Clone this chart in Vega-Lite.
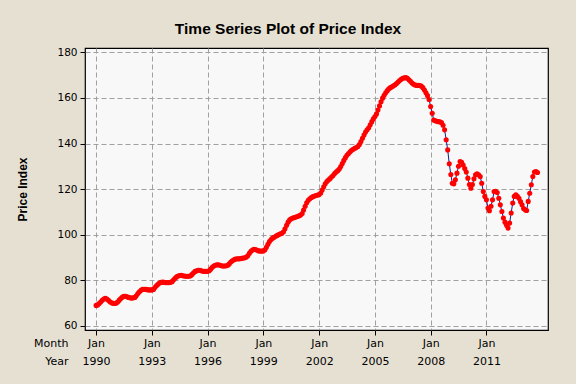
{
"$schema": "https://vega.github.io/schema/vega-lite/v6.json",
"width": 463, "height": 282,
"autosize": {"type": "none"},
"padding": {"left": 85, "top": 48, "right": 28, "bottom": 54},
"background": "#E6E0D3",
"title": {"text": "Time Series Plot of Price Index", "font": "Liberation Sans", "fontSize": 15.5, "fontWeight": "bold", "color": "#000000", "frame": "group", "anchor": "middle", "offset": 10, "dx": -28.5},
"config": {"view": {"fill": "#F8F8F8", "stroke": "#000000", "strokeWidth": 1.2}},
"data": {"values": [
{"month":"1990-01","price":69.0},{"month":"1990-02","price":69.2},{"month":"1990-03","price":69.8},{"month":"1990-04","price":70.5},{"month":"1990-05","price":71.2},{"month":"1990-06","price":71.8},{"month":"1990-07","price":72.1},{"month":"1990-08","price":71.8},{"month":"1990-09","price":71.2},{"month":"1990-10","price":70.6},{"month":"1990-11","price":70.1},{"month":"1990-12","price":69.9},
{"month":"1991-01","price":69.8},{"month":"1991-02","price":70.0},{"month":"1991-03","price":70.5},{"month":"1991-04","price":71.3},{"month":"1991-05","price":72.0},{"month":"1991-06","price":72.6},{"month":"1991-07","price":73.0},{"month":"1991-08","price":73.0},{"month":"1991-09","price":72.8},{"month":"1991-10","price":72.5},{"month":"1991-11","price":72.3},{"month":"1991-12","price":72.2},
{"month":"1992-01","price":72.3},{"month":"1992-02","price":72.5},{"month":"1992-03","price":73.2},{"month":"1992-04","price":74.2},{"month":"1992-05","price":75.0},{"month":"1992-06","price":75.6},{"month":"1992-07","price":76.0},{"month":"1992-08","price":76.1},{"month":"1992-09","price":76.0},{"month":"1992-10","price":75.9},{"month":"1992-11","price":75.8},{"month":"1992-12","price":75.8},
{"month":"1993-01","price":75.8},{"month":"1993-02","price":76.0},{"month":"1993-03","price":76.8},{"month":"1993-04","price":77.6},{"month":"1993-05","price":78.3},{"month":"1993-06","price":78.8},{"month":"1993-07","price":79.1},{"month":"1993-08","price":79.2},{"month":"1993-09","price":79.1},{"month":"1993-10","price":79.0},{"month":"1993-11","price":79.0},{"month":"1993-12","price":79.0},
{"month":"1994-01","price":79.1},{"month":"1994-02","price":79.4},{"month":"1994-03","price":80.1},{"month":"1994-04","price":80.9},{"month":"1994-05","price":81.5},{"month":"1994-06","price":81.9},{"month":"1994-07","price":82.1},{"month":"1994-08","price":82.2},{"month":"1994-09","price":82.0},{"month":"1994-10","price":81.9},{"month":"1994-11","price":81.8},{"month":"1994-12","price":81.8},
{"month":"1995-01","price":81.8},{"month":"1995-02","price":82.0},{"month":"1995-03","price":82.6},{"month":"1995-04","price":83.3},{"month":"1995-05","price":83.9},{"month":"1995-06","price":84.2},{"month":"1995-07","price":84.4},{"month":"1995-08","price":84.4},{"month":"1995-09","price":84.2},{"month":"1995-10","price":84.0},{"month":"1995-11","price":83.9},{"month":"1995-12","price":83.9},
{"month":"1996-01","price":84.0},{"month":"1996-02","price":84.2},{"month":"1996-03","price":84.9},{"month":"1996-04","price":85.7},{"month":"1996-05","price":86.3},{"month":"1996-06","price":86.6},{"month":"1996-07","price":86.8},{"month":"1996-08","price":86.8},{"month":"1996-09","price":86.6},{"month":"1996-10","price":86.4},{"month":"1996-11","price":86.3},{"month":"1996-12","price":86.3},
{"month":"1997-01","price":86.4},{"month":"1997-02","price":86.6},{"month":"1997-03","price":87.2},{"month":"1997-04","price":88.0},{"month":"1997-05","price":88.6},{"month":"1997-06","price":89.0},{"month":"1997-07","price":89.3},{"month":"1997-08","price":89.4},{"month":"1997-09","price":89.4},{"month":"1997-10","price":89.5},{"month":"1997-11","price":89.6},{"month":"1997-12","price":89.8},
{"month":"1998-01","price":89.9},{"month":"1998-02","price":90.2},{"month":"1998-03","price":90.8},{"month":"1998-04","price":91.8},{"month":"1998-05","price":92.7},{"month":"1998-06","price":93.3},{"month":"1998-07","price":93.6},{"month":"1998-08","price":93.5},{"month":"1998-09","price":93.2},{"month":"1998-10","price":92.9},{"month":"1998-11","price":92.8},{"month":"1998-12","price":92.8},
{"month":"1999-01","price":92.9},{"month":"1999-02","price":93.4},{"month":"1999-03","price":94.5},{"month":"1999-04","price":95.8},{"month":"1999-05","price":97.0},{"month":"1999-06","price":97.9},{"month":"1999-07","price":98.5},{"month":"1999-08","price":98.9},{"month":"1999-09","price":99.3},{"month":"1999-10","price":99.7},{"month":"1999-11","price":100.1},{"month":"1999-12","price":100.4},
{"month":"2000-01","price":100.6},{"month":"2000-02","price":101.3},{"month":"2000-03","price":102.6},{"month":"2000-04","price":104.1},{"month":"2000-05","price":105.5},{"month":"2000-06","price":106.5},{"month":"2000-07","price":107.0},{"month":"2000-08","price":107.3},{"month":"2000-09","price":107.5},{"month":"2000-10","price":107.8},{"month":"2000-11","price":108.0},{"month":"2000-12","price":108.3},
{"month":"2001-01","price":108.6},{"month":"2001-02","price":109.3},{"month":"2001-03","price":110.8},{"month":"2001-04","price":112.5},{"month":"2001-05","price":114.0},{"month":"2001-06","price":115.1},{"month":"2001-07","price":115.8},{"month":"2001-08","price":116.3},{"month":"2001-09","price":116.7},{"month":"2001-10","price":117.0},{"month":"2001-11","price":117.2},{"month":"2001-12","price":117.4},
{"month":"2002-01","price":117.6},{"month":"2002-02","price":118.3},{"month":"2002-03","price":119.6},{"month":"2002-04","price":121.0},{"month":"2002-05","price":122.3},{"month":"2002-06","price":123.3},{"month":"2002-07","price":124.0},{"month":"2002-08","price":124.6},{"month":"2002-09","price":125.3},{"month":"2002-10","price":126.0},{"month":"2002-11","price":126.8},{"month":"2002-12","price":127.5},
{"month":"2003-01","price":128.1},{"month":"2003-02","price":128.8},{"month":"2003-03","price":129.9},{"month":"2003-04","price":131.2},{"month":"2003-05","price":132.6},{"month":"2003-06","price":133.8},{"month":"2003-07","price":134.8},{"month":"2003-08","price":135.6},{"month":"2003-09","price":136.4},{"month":"2003-10","price":137.0},{"month":"2003-11","price":137.5},{"month":"2003-12","price":137.9},
{"month":"2004-01","price":138.2},{"month":"2004-02","price":138.7},{"month":"2004-03","price":139.6},{"month":"2004-04","price":140.9},{"month":"2004-05","price":142.3},{"month":"2004-06","price":143.7},{"month":"2004-07","price":145.0},{"month":"2004-08","price":146.0},{"month":"2004-09","price":146.9},{"month":"2004-10","price":148.2},{"month":"2004-11","price":149.6},{"month":"2004-12","price":150.8},
{"month":"2005-01","price":151.8},{"month":"2005-02","price":153.0},{"month":"2005-03","price":154.7},{"month":"2005-04","price":156.5},{"month":"2005-05","price":158.3},{"month":"2005-06","price":159.9},{"month":"2005-07","price":161.2},{"month":"2005-08","price":162.3},{"month":"2005-09","price":163.2},{"month":"2005-10","price":164.0},{"month":"2005-11","price":164.5},{"month":"2005-12","price":164.9},
{"month":"2006-01","price":165.3},{"month":"2006-02","price":165.8},{"month":"2006-03","price":166.3},{"month":"2006-04","price":167.0},{"month":"2006-05","price":167.6},{"month":"2006-06","price":168.2},{"month":"2006-07","price":168.6},{"month":"2006-08","price":168.8},{"month":"2006-09","price":168.9},{"month":"2006-10","price":168.6},{"month":"2006-11","price":168.0},{"month":"2006-12","price":167.3},
{"month":"2007-01","price":166.5},{"month":"2007-02","price":166.0},{"month":"2007-03","price":165.7},{"month":"2007-04","price":165.5},{"month":"2007-05","price":165.5},{"month":"2007-06","price":165.4},{"month":"2007-07","price":165.2},{"month":"2007-08","price":164.5},{"month":"2007-09","price":163.5},{"month":"2007-10","price":162.3},{"month":"2007-11","price":161.0},{"month":"2007-12","price":159.3},
{"month":"2008-01","price":156.2},{"month":"2008-02","price":153.3},{"month":"2008-03","price":150.3},{"month":"2008-04","price":150.0},{"month":"2008-05","price":149.8},{"month":"2008-06","price":149.6},{"month":"2008-07","price":149.5},{"month":"2008-08","price":149.2},{"month":"2008-09","price":148.0},{"month":"2008-10","price":146.0},{"month":"2008-11","price":141.6},{"month":"2008-12","price":137.2},
{"month":"2009-01","price":131.1},{"month":"2009-02","price":126.4},{"month":"2009-03","price":122.6},{"month":"2009-04","price":122.3},{"month":"2009-05","price":124.1},{"month":"2009-06","price":127.0},{"month":"2009-07","price":130.0},{"month":"2009-08","price":132.1},{"month":"2009-09","price":131.8},{"month":"2009-10","price":130.6},{"month":"2009-11","price":129.0},{"month":"2009-12","price":127.5},
{"month":"2010-01","price":124.8},{"month":"2010-02","price":122.0},{"month":"2010-03","price":120.4},{"month":"2010-04","price":122.0},{"month":"2010-05","price":124.5},{"month":"2010-06","price":126.3},{"month":"2010-07","price":126.7},{"month":"2010-08","price":126.3},{"month":"2010-09","price":125.5},{"month":"2010-10","price":122.6},{"month":"2010-11","price":118.9},{"month":"2010-12","price":116.8},
{"month":"2011-01","price":115.3},{"month":"2011-02","price":111.7},{"month":"2011-03","price":110.5},{"month":"2011-04","price":112.5},{"month":"2011-05","price":115.3},{"month":"2011-06","price":118.9},{"month":"2011-07","price":119.0},{"month":"2011-08","price":118.5},{"month":"2011-09","price":116.0},{"month":"2011-10","price":113.1},{"month":"2011-11","price":110.2},{"month":"2011-12","price":107.3},
{"month":"2012-01","price":105.5},{"month":"2012-02","price":104.2},{"month":"2012-03","price":102.9},{"month":"2012-04","price":105.1},{"month":"2012-05","price":109.5},{"month":"2012-06","price":113.9},{"month":"2012-07","price":116.8},{"month":"2012-08","price":117.5},{"month":"2012-09","price":116.8},{"month":"2012-10","price":116.0},{"month":"2012-11","price":114.5},{"month":"2012-12","price":113.1},
{"month":"2013-01","price":111.5},{"month":"2013-02","price":110.9},{"month":"2013-03","price":110.6},{"month":"2013-04","price":114.6},{"month":"2013-05","price":118.2},{"month":"2013-06","price":121.9},{"month":"2013-07","price":125.5},{"month":"2013-08","price":127.5},{"month":"2013-09","price":127.7},{"month":"2013-10","price":127.3}
]},
"encoding": {
  "x": {"field": "month", "type": "temporal",
    "scale": {"type": "utc", "domain": [{"year": 1989, "month": 5, "date": 28, "utc": true}, {"year": 2014, "month": 4, "date": 25, "utc": true}]},
    "axis": {
      "values": [{"year": 1990, "month": 1, "date": 1, "utc": true}, {"year": 1993, "month": 1, "date": 1, "utc": true}, {"year": 1996, "month": 1, "date": 1, "utc": true}, {"year": 1999, "month": 1, "date": 1, "utc": true}, {"year": 2002, "month": 1, "date": 1, "utc": true}, {"year": 2005, "month": 1, "date": 1, "utc": true}, {"year": 2008, "month": 1, "date": 1, "utc": true}, {"year": 2011, "month": 1, "date": 1, "utc": true}],
      "labelExpr": "['Jan', utcFormat(datum.value, '%Y')]",
      "labelFont": "DejaVu Sans", "labelFontSize": 11, "labelColor": "#000000",
      "labelLineHeight": 18.5, "labelBaseline": "top", "labelPadding": 2, "labelAlign": "center",
      "labelOverlap": false, "labelFlush": false,
      "tickSize": 5, "tickColor": "#000000", "tickWidth": 1,
      "domain": false,
      "grid": true, "gridColor": "#A0A0A0", "gridDash": [5, 3], "gridWidth": 1,
      "title": ["Month", "Year"], "titleFont": "DejaVu Sans", "titleFontSize": 11, "titleFontWeight": "normal", "titleColor": "#000000",
      "titleAlign": "right", "titleBaseline": "top", "titleLineHeight": 18.5, "titleX": -17, "titleY": 7
    }
  },
  "y": {"field": "price", "type": "quantitative",
    "scale": {"domain": [58.2, 181.9], "nice": false, "zero": false},
    "axis": {
      "values": [60, 80, 100, 120, 140, 160, 180],
      "labelFont": "DejaVu Sans", "labelFontSize": 10.5, "labelColor": "#000000", "labelPadding": 3,
      "tickSize": 5, "tickColor": "#000000", "tickWidth": 1,
      "domain": false,
      "grid": true, "gridColor": "#A0A0A0", "gridDash": [5, 3], "gridWidth": 1,
      "title": "Price Index", "titleFont": "Liberation Sans", "titleFontSize": 12, "titleFontWeight": "bold", "titleColor": "#000000",
      "titleAngle": -90, "titleAlign": "center", "titleBaseline": "middle", "titleX": -63, "titleY": 141
    }
  }
},
"layer": [
  {"mark": {"type": "line", "color": "#1A1A8C", "strokeWidth": 1}},
  {"mark": {"type": "circle", "color": "#FF0000", "size": 26, "opacity": 1}}
]
}
